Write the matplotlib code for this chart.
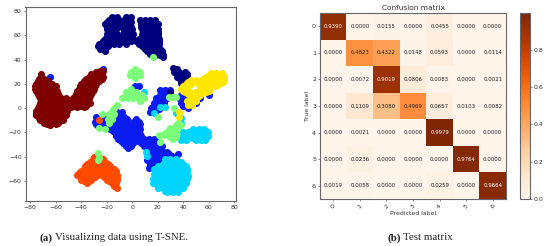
import numpy as np
import matplotlib
matplotlib.use("Agg")
import matplotlib.pyplot as plt

# t-SNE clusters as (y, [x, ...]) rows
navy_rows = [(75, [-16, -12, -5, -1]), (73, [-18, -14, -10, -6, -2, 6, 10, 14, 18]),
             (71, [-20, -16, -12, -8, -4, -1, 8, 12, 16]),
             (69, [-21, -18, -14, -10, -6, -2, 7, 10, 14, 18, 20]),
             (67, [-20, -16, -13, -8, -4, -1, 7, 11, 15, 19]),
             (65, [-20, -17, -13, -3, 0, 8, 12, 16, 20]),
             (63, [-19, -15, -6, 9, 13, 17, 20]),
             (61, [-20, -16, -12, -7, -3, 1, 8, 10, 14, 18, 20]),
             (59, [-18, -14, -9, -5, -1, 9, 13, 17, 20]),
             (57, [-21, -17, -12, -7, -3, 1, 5, 9, 13, 17, 21]),
             (55, [-23, -19, -15, -10, -6, -1, 3, 7, 11, 15, 19, 21]),
             (53, [-26, -22, -18, -14, -10, -5, 5, 10, 14, 18, 21]),
             (51, [-27, -23, -19, 8, 12, 16, 20]), (49, [-25, -21, 10, 14, 18, 22]),
             (47, [-21, 12, 16, 20, 23]), (45, [14, 18, 22]),
             (44, [18, 22, 24]), (42, [24]),
             (33, [32]), (32, [35]), (30, [33, 37, 41]), (28, [36, 40, 43]), (26, [35, 39, 43]),
             (25, [37, 41]), (23, [38, 42]), (21, [38]),
             (13, [30]), (-43, [-23])]
blue_rows = [(32, [-23]), (26, [-64]), (18, [2, 5]),
             (15, [22, 26, 30]), (13, [24, 28]), (11, [22, 26, 30, 38, 42, 60]),
             (8, [19, 23, 27, 37, 41, 46, 53]), (6, [21, 25, 40, 44]),
             (4, [17, 21, 25, 38, 42, 50]), (2, [19, 23, 40]), (0, [15, 19, 44]),
             (-1, [17, 21]), (-3, [14, 18, -12, -8]),
             (-7, [-28, -24, -18, -14, -10, -6]),
             (-9, [-27, -23, -20, -16, -12, -8, -4, 3]),
             (-11, [-29, -25, -21, -17, -13, -9, -5, 1, 5]),
             (-13, [-28, -25, -21, -17, -13, -9, -5, -1, 3, 6]),
             (-15, [-27, -23, -19, -15, -11, -7, -3, 1, 5]),
             (-17, [-17, -13, -9, -5, -1, 3, 6]),
             (-19, [-15, -11, -7, -3, 1, 5]), (-21, [-13, -9, -5, -1, 3, 6]),
             (-23, [-13, -9, -5, -1, 3, 7]), (-25, [-11, -7, -3, 1, 5, 9, 13, 17]),
             (-27, [-9, -5, -1, 3, 7, 11, 15, 19]), (-29, [-7, -3, 1, 7, 11, 15, 19]),
             (-31, [-5, -1, 9, 13, 17, 21, 23]), (-33, [-3, 15, 19, 22]),
             (-35, [15, 19, 23]), (-36.5, [19, 23, 27]), (-38, [17, 21, 25, 29, 36]),
             (-39.5, [15, 19, 23, 27, 31]), (-41, [13, 17, 21, 25, 29, 33]),
             (-43, [12, 16, 20, 24, 28, 32]), (-45, [14, 18, 22, 26, 30]), (-47, [14, 18]), (-49, [13, 17])]
cyan_rows = [(13, [9]), (1, [22, 26]), (-4, [17, 34]), (-8, [38]), (-12, [38]),
             (-17, [36, 48, 52, 56]), (-18.5, [46, 50, 54, 58]),
             (-20, [40, 44, 48, 52, 56, 59]), (-21.5, [42, 46, 50, 54, 58]),
             (-23, [40, 44, 48, 52, 56, 59]), (-24.5, [40, 44, 48, 52, 56]),
             (-26, [38, 42, 50, 54, 57]), (-36, [11]), (-39, [12]),
             (-42, [26, 30, 34]), (-44, [26, 30, 34, 38]), (-46, [24, 28, 32, 36, 40]),
             (-48, [20, 24, 28, 32, 36, 40, 42]), (-50, [17, 21, 24, 28, 32, 36, 40, 43]),
             (-52, [19, 23, 27, 31, 35, 39, 43]), (-54, [17, 21, 25, 29, 33, 37, 41, 43]),
             (-56, [18, 22, 26, 30, 34, 38, 42, 44]), (-58, [16, 20, 24, 28, 32, 36, 40, 43]),
             (-60, [18, 22, 26, 30, 34, 38, 42]), (-62, [16, 20, 24, 28, 32, 36, 40, 42]),
             (-64, [20, 24, 28, 32, 36, 40]), (-66, [20, 24, 28, 32, 36, 40]),
             (-68, [26, 30, 34, 36]), (-69, [27, 32, 36])]
green_rows = [(42, [16]), (32, [2]), (30, [-1, 3, 6]), (28.5, [0, 4]), (27, [-2, 2, 6]), (25, [2]),
              (16, [-1]), (13, [-5, -1, 3]), (11, [-4, 0, 4, 8]), (9.5, [-6, -2, 2, 6]),
              (8, [-8, -3, 1, 5, 9]), (6, [6]),
              (9, [29, 32, 34]), (3, [-12]), (0, [-14, 33]), (-2, [-16]), (-5, [-24, -18, -14]),
              (-7, [20]), (-9, [-19, -16]), (-12, [-18, 36]), (-14, [34, 38]),
              (-16, [-26, 30, 33]), (-17, [-21]), (-17.5, [31, 35]), (-19, [28, 32]),
              (-20.5, [26, 30, 34]), (-22, [21, 24, 28, 32]), (-23.5, [30, 34]),
              (-25, [32]), (-28, [22]), (-37, [-27]), (-41, [-26]), (-43, [-27])]
yellow_rows = [(29, [62, 66, 70]), (27.5, [60, 64, 68, 71]), (26, [58, 62, 66, 70, 72]),
               (24.5, [56, 60, 64, 68, 72]), (23, [46, 50, 54, 58, 62, 66, 70, 72]),
               (21.5, [44, 48, 52, 56, 60, 64, 68, 71]), (20, [42, 46, 52, 56, 60, 64, 68]),
               (18, [40, 44, 54, 58, 62, 66]), (16, [38, 42, 53, 57, 61]),
               (14.5, [40, 44, 52, 56, 60]), (13, [41, 45, 50, 54, 58]),
               (11.5, [44, 50, 54]), (10, [48, 52]), (8, [46, 50]),
               (6, [43, 47, 50]), (3, [44, 47]), (-3, [37]), (-7, [37])]
orange_rows = [(-10, [-26]), (-40, [-30, -26]), (-42, [-31, -27, -23]),
               (-44, [-33, -29, -25, -21]), (-46, [-35, -31, -27, -23, -19]),
               (-48, [-37, -33, -29, -25, -21, -17]),
               (-50, [-38, -34, -30, -26, -22, -18, -14]),
               (-52, [-40, -36, -32, -28, -24, -20, -16, -13]),
               (-53.5, [-42, -38, -34, -30, -26, -22, -18, -14]),
               (-55, [-43, -39, -35, -31, -27, -23, -19, -15, -12]),
               (-57, [-41, -37, -33, -29, -22, -18, -14, -12]),
               (-59, [-40, -36, -32, -20, -16, -12]), (-60, [-38, -34, -18, -14]),
               (-62, [-35, -16, -13]), (-64, [-14]), (-66, [-12])]
maroon_rows = [(28, [-71]), (26, [-71]), (24, [-73, -69]), (22, [-74, -70, -66]),
               (20, [-75, -71, -67, -63]), (18, [-76, -72, -68, -64, -60]),
               (16, [-76, -73, -69, -65, -61]), (14, [-75, -71, -67, -63, -59]),
               (12, [-74, -70, -66, -62, -58]), (10, [-73, -69, -65, -61, -57]),
               (8, [-72, -68, -64, -60, -56, -52]), (6, [-70, -66, -62, -58, -54, -50]),
               (4, [-72, -68, -64, -60, -56, -52, -48]),
               (2, [-73, -69, -65, -61, -57, -53, -49]),
               (0, [-74, -71, -67, -63, -59, -55, -51]),
               (-2, [-75, -70, -66, -62, -58, -54, -51]),
               (-4, [-75, -72, -68, -64, -60, -56, -52]),
               (-6, [-75, -70, -66, -62, -58, -54, -52]),
               (-8, [-73, -70, -66, -62, -58, -54]), (-10, [-72, -68, -64, -60, -56, -54]),
               (-12, [-69, -66, -62, -58]), (-13, [-67, -60]), (-14, [-64]),
               (31, [-25, -23]), (30, [-28, -24]), (28, [-32, -28, -24]),
               (26, [-34, -30, -26, -23]), (24, [-36, -32, -28, -24]),
               (22, [-38, -34, -30, -26]), (20, [-40, -36, -32, -28]),
               (18, [-41, -37, -33, -29]), (16, [-42, -38, -34, -30]),
               (14, [-43, -39, -35, -31]), (12, [-44, -40, -36, -32]),
               (10, [-45, -41, -37, -33]), (8, [-46, -42, -38, -34]),
               (6, [-48, -44, -40, -36]), (4, [-46, -42, -38, -33]),
               (2, [-46, -41, -36]), (1, [-43, -38, -48])]

clusters = [blue_rows, cyan_rows, navy_rows, maroon_rows, orange_rows, green_rows, yellow_rows]
cluster_colors = ["#0a1cf0", "#00d4ff", "#00007f", "#7f0000", "#ff4a00", "#7dff7a", "#ffe600"]

# Confusion matrix
class_labels = ["0", "1", "2", "3", "4", "5", "6"]
matrix = np.array([
    [0.9390, 0.0000, 0.0155, 0.0000, 0.0455, 0.0000, 0.0000],
    [0.0000, 0.4823, 0.4322, 0.0148, 0.0593, 0.0000, 0.0114],
    [0.0000, 0.0072, 0.9019, 0.0806, 0.0083, 0.0000, 0.0021],
    [0.0000, 0.1109, 0.3080, 0.4969, 0.0657, 0.0103, 0.0082],
    [0.0000, 0.0021, 0.0000, 0.0000, 0.9979, 0.0000, 0.0000],
    [0.0000, 0.0236, 0.0000, 0.0000, 0.0000, 0.9764, 0.0000],
    [0.0019, 0.0058, 0.0000, 0.0000, 0.0259, 0.0000, 0.9664],
])

W, H = 550, 246
TXT = "#333333"
EDGE = "#666666"
fig = plt.figure(figsize=(W / 100, H / 100), dpi=100)


def box(l, t, r, b):
    return [l / W, 1 - b / H, (r - l) / W, (b - t) / H]


def style(ax, size):
    for s in ax.spines.values():
        s.set_color(EDGE)
        s.set_linewidth(0.8)
    ax.tick_params(labelsize=size, length=1.6, width=0.4, pad=1.2, colors=TXT)


# Left panel
ax = fig.add_axes(box(25.5, 7, 235.5, 200.7))
for rows, c in zip(clusters, cluster_colors):
    xs = [x for y, row in rows for x in row]
    ys = [y for y, row in rows for _ in row]
    ax.scatter(xs, ys, s=26, c=c, linewidths=0)
ax.set_xlim(-83.5, 80.9)
ax.set_ylim(-76.2, 83.3)
ax.set_xticks(np.arange(-80, 81, 20))
ax.set_yticks(np.arange(-60, 81, 20))
style(ax, 4.4)

# Right panel
ax2 = fig.add_axes(box(320, 13, 506, 199))
im = ax2.imshow(matrix, cmap="Oranges", aspect="auto", interpolation="nearest")
vmax = matrix.max()
for i in range(matrix.shape[0]):
    for j in range(matrix.shape[1]):
        ax2.text(j, i, f"{matrix[i, j]:.4f}", ha="center", va="center", fontsize=3.9,
                 color="white" if matrix[i, j] > vmax / 2 else "#222222")
ax2.set_xticks(range(7), class_labels, rotation=45)
ax2.set_yticks(range(7), class_labels)
style(ax2, 4.6)
ax2.set_title("Confusion matrix", fontsize=5.3, pad=2.5, color=TXT)
ax2.set_xlabel("Predicted label", fontsize=4.4, labelpad=1.5, color=TXT)
ax2.set_ylabel("True label", fontsize=4.4, labelpad=1.5, color=TXT)

cax = fig.add_axes(box(520, 13, 529.5, 199))
cb = fig.colorbar(im, cax=cax)
cb.set_ticks([0.0, 0.2, 0.4, 0.6, 0.8])
style(cax, 4.4)
cb.outline.set_edgecolor(EDGE)
cb.outline.set_linewidth(0.8)

# Captions
serif = "Liberation Serif"
fig.text(40 / W, 1 - 238 / H, "(a)", fontsize=7.8, family=serif, weight="bold", va="center", color="#222222")
fig.text(55 / W, 1 - 238 / H, "Visualizing data using T-SNE.", fontsize=7.8, family=serif, va="center", color="#222222")
fig.text(387 / W, 1 - 238 / H, "(b)", fontsize=7.8, family=serif, weight="bold", va="center", color="#222222")
fig.text(403 / W, 1 - 238 / H, "Test matrix", fontsize=7.8, family=serif, va="center", color="#222222")

fig.savefig("out.png", dpi=100)
